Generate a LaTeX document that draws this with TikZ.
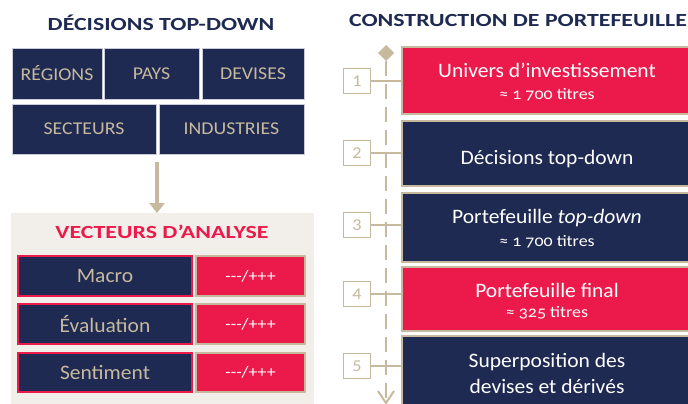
\documentclass[tikz,border=0pt]{standalone}
\usepackage{fontspec}
\setmainfont{Carlito}[Numbers=OldStyle]
\newfontfamily\headfont{Carlito}[FakeStretch=1.29]
\newfontfamily\capsfont{Carlito}[FakeStretch=1.1]
\newfontfamily\txtfont{Carlito}[FakeStretch=1.05, Numbers=OldStyle]
\newfontfamily\subfont{Carlito}[FakeStretch=1.12, Numbers=OldStyle]
\usetikzlibrary{arrows.meta,shapes.geometric}
\definecolor{navy}{HTML}{1F2A52}
\definecolor{crimson}{HTML}{EC1A4B}
\definecolor{beige}{HTML}{C6B99E}
\definecolor{panel}{HTML}{F2EFEA}
\definecolor{edge}{HTML}{C9CCD8}
\tikzset{
  every node/.style={inner sep=0pt, outer sep=0pt},
  topbox/.style={draw=edge, line width=0.8pt, fill=navy, text=beige, font=\capsfont\fontsize{18}{20}\selectfont, anchor=north west},
  vecname/.style={draw=crimson, line width=1.5pt, fill=navy, text=beige, font=\txtfont\fontsize{20.5}{24}\selectfont, anchor=north west},
  vecval/.style={draw=beige, line width=1.5pt, fill=crimson, text=white, font=\subfont\fontsize{16}{18}\selectfont, anchor=north west},
  stagebox/.style={draw=beige, line width=2pt, anchor=north west},
  main/.style={text=white, font=\txtfont\fontsize{20.5}{24}\selectfont},
  sub/.style={text=white, font=\subfont\fontsize{16}{18}\selectfont},
  numbox/.style={draw=beige, line width=1pt, fill=white, text=beige, minimum width=27pt, minimum height=25pt, font=\capsfont\fontsize{16.5}{18}\selectfont},
  heading/.style={font=\headfont\fontsize{18.5}{22}\bfseries\selectfont, text=navy},
  tick/.style={draw=beige, line width=1.5pt},
}
\begin{document}
\begin{tikzpicture}[x=1pt,y=-1pt]
\useasboundingbox (0,0) rectangle (688,404);
% left title
\node[heading] (t1) at (161,23) {DÉCISIONS TOP-DOWN};
% top-down boxes
\node[topbox, minimum width=90pt, minimum height=51pt] (reg) at (12,48) {RÉGIONS};
\node[topbox, minimum width=95pt, minimum height=51pt] (pays) at (104,48) {PAYS};
\node[topbox, minimum width=102pt, minimum height=51pt] (dev) at (202,48) {DEVISES};
\node[topbox, minimum width=144pt, minimum height=50pt] (sec) at (12,104) {SECTEURS};
\node[topbox, minimum width=145pt, minimum height=50pt] (ind) at (159,104) {INDUSTRIES};
% panel
\node[fill=panel, minimum width=303pt, minimum height=195pt, anchor=north west] (pan) at (11,213) {};
\coordinate (arrtop) at (157,162);
\draw[beige, line width=3.5pt, -{Triangle[width=15pt,length=10pt]}] (arrtop) -- (pan.north -| arrtop);
\node[font=\headfont\fontsize{18.5}{22}\bfseries\selectfont, text=crimson] (t2) at (162,232) {VECTEURS D’ANALYSE};
\node[vecname, minimum width=174pt, minimum height=40pt] (m1) at (18,256) {Macro};
\node[vecval, minimum width=109pt, minimum height=40pt] (v1) at (196,256) {-{}-{}-/+++};
\node[vecname, minimum width=174pt, minimum height=40pt] (m2) at (18,304) {Évaluation};
\node[vecval, minimum width=109pt, minimum height=40pt] (v2) at (196,304) {-{}-{}-/+++};
\node[vecname, minimum width=174pt, minimum height=39pt] (m3) at (18,353) {Sentiment};
\node[vecval, minimum width=109pt, minimum height=39pt] (v3) at (196,353) {-{}-{}-/+++};
% right title
\node[heading] (t3) at (518,21) {CONSTRUCTION DE PORTEFEUILLE};
% stage boxes
\node[stagebox, fill=crimson, minimum width=292pt, minimum height=67pt] (s1) at (402,47) {};
\node[stagebox, fill=navy, minimum width=292pt, minimum height=65pt] (s2) at (402,121) {};
\node[stagebox, fill=navy, minimum width=292pt, minimum height=69pt] (s3) at (402,193) {};
\node[stagebox, fill=crimson, minimum width=292pt, minimum height=64pt] (s4) at (402,267) {};
\node[stagebox, fill=navy, minimum width=292pt, minimum height=75pt] (s5) at (402,336) {};
\node[main] (s1a) at (547,70) {Univers d’investissement};
\node[sub] (s1b) at (547,95) {≈ 1 700 titres};
\node[main] (s2a) at (547,159) {Décisions top-down};
\node[main] (s3a) at (547,218) {Portefeuille \textit{top-down}};
\node[sub] (s3b) at (547,242) {≈ 1 700 titres};
\node[main] (s4a) at (547,290) {Portefeuille final};
\node[sub] (s4b) at (547,313) {≈ 325 titres};
\node[main] (s5a) at (547,362) {Superposition des};
\node[main] (s5b) at (547,386) {devises et dérivés};
% timeline
\node[diamond, fill=beige, minimum width=16pt, minimum height=16pt] (dia) at (386,53) {};
\coordinate (tend) at (386,403);
\draw[beige, line width=2.5pt, dash pattern=on 15pt off 8pt] (dia.south) -- (tend);
\draw[beige, line width=2pt] (378,391) -- (tend) -- (394,391);
% number boxes
\foreach \n/\y in {1/81,2/153,3/225,4/294,5/366}{
  \node[numbox] (n\n) at (357,\y) {\n};
  \draw[tick] (n\n.east) -- (n\n.east -| s\n.west);
}
\end{tikzpicture}
\end{document}
